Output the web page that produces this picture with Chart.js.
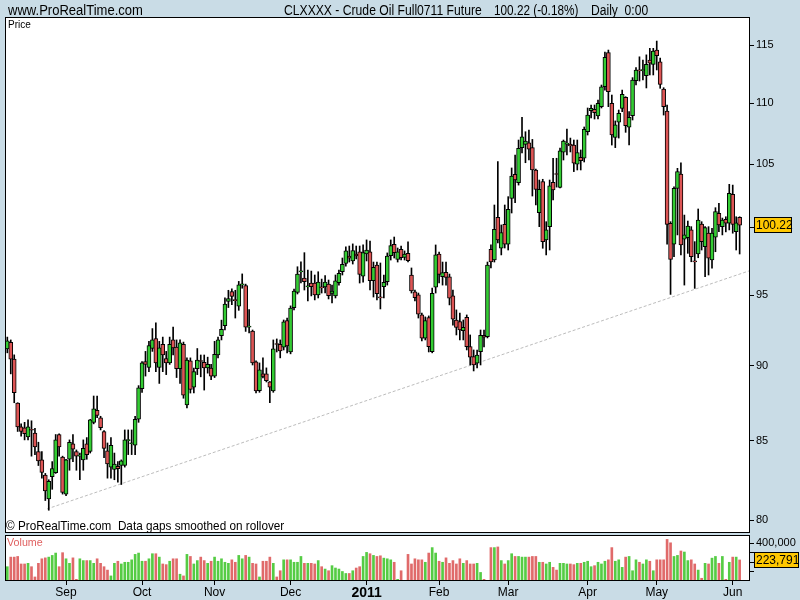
<!DOCTYPE html>
<html>
<head>
<meta charset="utf-8">
<script src="https://cdn.jsdelivr.net/npm/chart.js@4.4.1/dist/chart.umd.min.js"></script>
<style>
  body { margin: 0; width: 800px; height: 600px; overflow: hidden; position: relative; background: #c9dce6; }
  .t { position: absolute; white-space: pre; line-height: 1; color: #000;
       font-family: "Liberation Sans", Arial, sans-serif; z-index: 5; transform-origin: 0 0; }
  .wrap { position: absolute; left: 5px; }
  canvas { display: block; }
</style>
</head>
<body>
<div class="t" data-w="135" style="left:8px;top:3px;font-size:14px">www.ProRealTime.com</div>
<div class="t" data-w="198" style="left:284px;top:3px;font-size:14px">CLXXXX - Crude Oil Full0711 Future</div>
<div class="t" data-w="84" style="left:494px;top:3px;font-size:14px">100.22 (-0.18%)</div>
<div class="t" data-w="57" style="left:591px;top:3px;font-size:14px">Daily  0:00</div>

<div class="wrap" style="top:17px;width:795px;height:516px"><canvas id="priceChart" width="795" height="516"></canvas></div>
<div class="t" data-w="23" style="left:8px;top:20px;font-size:10px">Price</div>
<div class="t" data-w="278" style="left:6px;top:519px;font-size:13px">© ProRealTime.com  Data gaps smoothed on rollover</div>

<div class="wrap" style="top:535px;width:795px;height:66px"><canvas id="volChart" width="795" height="66"></canvas></div>
<div class="t" data-w="36" style="left:7px;top:537px;font-size:11px;color:#e06060">Volume</div>

<script>
// daily candles, Aug 2010 -> 3 Jun 2011 (index 0 = first bar)
const openPx = [
  91.17,91.64,90.46,87.47,85.90,85.84,85.25,85.70,85.50,84.30,
  83.76,82.80,81.30,82.70,82.95,85.40,83.94,81.60,83.80,84.80,
  84.30,84.00,83.76,84.80,84.30,86.20,87.00,86.50,85.60,84.35,
  83.30,83.15,83.35,83.40,83.40,85.00,84.80,84.70,86.40,88.45,
  90.30,89.90,91.20,91.90,89.90,91.50,90.50,90.20,91.80,91.30,
  89.80,91.50,87.35,90.35,88.55,89.80,90.35,90.25,89.85,89.85,
  89.30,90.75,92.10,92.80,94.55,95.25,94.65,94.20,95.75,95.70,
  92.70,92.43,90.27,88.31,89.45,89.45,88.90,88.29,91.50,91.50,
  91.29,93.16,90.96,94.10,95.20,96.70,96.25,95.60,95.88,95.88,
  95.01,95.55,95.59,95.81,95.13,94.94,95.90,96.71,97.33,97.88,
  97.51,98.03,98.20,96.39,98.03,98.20,96.05,97.20,94.82,95.61,
  95.98,97.90,98.76,97.63,98.38,97.78,98.08,96.47,95.24,95.01,
  93.57,91.92,93.38,90.98,95.57,98.03,96.34,96.67,96.34,94.94,
  93.21,93.09,92.45,93.40,91.33,90.64,90.18,90.98,92.13,92.03,
  98.38,97.58,100.82,98.46,100.28,98.76,102.29,104.19,103.52,106.33,
  106.60,106.73,106.33,104.53,101.17,103.60,99.09,100.10,103.55,104.19,
  103.15,105.96,106.62,106.62,106.54,104.99,105.55,105.47,107.63,109.37,
  109.49,108.93,109.71,111.39,114.33,109.99,107.17,108.41,109.57,110.50,
  108.00,108.96,111.91,112.77,112.77,112.34,113.69,113.32,114.56,113.54,
  111.20,109.35,100.36,98.76,103.07,104.21,99.14,99.27,99.85,97.46,
  98.03,100.30,98.58,99.60,97.58,99.29,101.12,100.10,100.66,100.36,
  102.60,99.72,100.82
];
const highPx = [
  92.00,91.80,90.76,87.50,86.10,86.20,86.36,86.30,85.80,84.90,
  84.30,82.90,82.50,83.65,85.40,85.45,84.00,83.80,85.05,85.40,
  84.40,84.20,85.05,85.20,86.40,87.95,87.95,86.60,85.65,84.85,
  85.20,84.20,83.65,83.76,85.70,85.70,85.70,86.60,88.65,90.30,
  91.00,91.70,92.60,93.00,91.70,92.00,91.00,92.00,92.70,91.80,
  91.80,91.65,90.55,90.55,89.85,91.20,90.75,90.75,90.60,90.10,
  91.70,92.00,93.20,94.80,95.35,95.45,95.35,96.00,96.55,95.80,
  93.95,92.50,90.34,90.20,90.55,89.86,88.92,91.80,91.87,91.80,
  93.21,93.35,94.22,95.44,97.08,97.45,98.13,96.84,96.76,96.47,
  96.71,96.17,96.42,96.10,95.73,96.47,96.84,97.73,98.56,98.63,
  98.79,98.63,98.63,98.71,99.09,99.00,97.43,97.43,97.36,96.47,
  98.11,99.09,99.31,98.48,98.63,98.26,98.94,96.99,95.37,95.15,
  93.71,93.43,93.50,95.51,98.71,98.18,97.43,97.43,96.54,95.37,
  93.93,93.71,93.21,93.57,92.15,91.10,91.10,92.50,92.50,97.43,
  98.71,101.77,105.20,100.23,101.77,102.42,104.69,105.73,106.95,108.82,
  107.63,107.77,107.00,104.61,103.73,103.79,100.48,103.73,105.47,105.47,
  106.30,106.95,107.85,107.11,106.95,106.95,106.14,108.02,109.60,109.85,
  109.85,110.27,111.54,114.39,114.56,110.69,108.52,109.43,111.11,110.55,
  109.29,112.17,113.03,113.97,113.69,114.14,114.71,114.71,115.35,113.86,
  111.31,109.85,100.48,103.20,104.66,105.11,100.99,100.53,100.10,98.96,
  101.46,100.48,100.10,100.10,99.98,101.56,101.90,100.76,100.86,103.39,
  103.33,100.86,100.86
];
const lowPx = [
  90.90,89.45,87.50,85.60,85.30,85.05,85.05,84.00,84.10,83.40,
  82.60,81.20,80.60,81.90,82.90,84.00,81.60,81.50,83.10,83.65,
  83.10,82.50,83.10,83.80,84.20,86.10,86.50,85.70,83.90,82.60,
  82.60,82.50,82.35,82.20,83.30,84.10,84.10,84.10,86.20,88.20,
  89.30,89.60,91.00,89.60,88.80,89.60,89.40,90.10,90.75,89.20,
  88.80,87.80,87.15,88.15,88.15,89.40,89.25,88.35,89.50,89.05,
  89.20,90.55,91.80,92.50,94.10,94.30,93.35,93.90,95.50,92.40,
  92.30,90.06,88.16,88.20,89.17,88.90,87.50,88.20,90.96,90.55,
  91.10,90.90,90.83,93.93,95.08,95.88,95.37,94.58,94.94,94.65,
  94.79,95.15,95.15,94.72,94.43,94.79,95.73,96.47,97.13,97.43,
  97.28,97.66,95.88,95.95,97.51,95.37,94.86,94.65,94.00,94.79,
  95.73,97.58,97.73,97.43,97.58,97.58,97.43,95.15,94.58,93.35,
  91.73,91.80,90.96,90.90,95.15,95.88,95.73,95.73,94.29,92.85,
  92.15,91.80,91.80,91.10,90.06,89.65,89.86,90.06,91.31,91.94,
  96.99,97.43,98.86,97.96,98.48,98.33,101.15,101.95,103.33,105.90,
  105.11,105.33,102.47,101.77,100.10,98.46,97.96,98.33,102.16,103.17,
  103.10,105.33,105.73,105.98,104.40,104.53,104.53,105.17,107.36,108.77,
  108.68,108.68,109.60,111.11,109.71,106.54,106.33,107.11,109.29,107.58,
  106.54,108.60,111.54,111.88,111.97,111.29,112.40,112.40,112.83,111.26,
  109.01,98.76,95.05,97.83,99.47,97.96,95.73,98.08,97.45,95.49,
  97.75,98.33,96.34,96.47,96.97,98.20,99.72,99.47,99.70,99.85,
  99.60,98.33,98.03
];
const closePx = [
  91.73,90.46,88.17,85.90,85.60,85.45,85.90,85.68,84.60,83.70,
  82.96,81.80,82.40,83.20,85.05,84.60,81.70,83.76,84.90,84.45,
  84.00,84.02,84.50,84.10,86.36,87.10,86.65,85.85,84.50,83.50,
  84.70,83.50,83.20,83.70,85.05,85.05,84.82,86.40,88.50,90.20,
  90.10,91.40,91.80,90.20,91.25,90.75,90.20,91.50,91.25,89.80,
  91.60,88.00,90.40,88.40,89.60,90.40,90.30,89.85,90.10,89.30,
  90.80,91.80,92.55,94.35,94.75,94.90,94.60,95.75,95.80,92.70,
  92.72,90.20,88.29,89.72,89.27,88.99,88.54,91.17,91.48,91.03,
  93.07,91.38,94.07,95.30,96.54,96.72,95.98,95.61,95.61,95.01,
  95.95,95.53,95.95,94.96,95.30,96.05,96.60,97.26,98.26,97.71,
  98.28,97.88,96.52,98.13,98.33,96.05,97.04,95.10,94.80,95.93,
  97.88,98.66,98.13,98.20,97.75,98.03,97.53,95.30,94.82,93.62,
  91.92,93.16,91.33,95.13,97.96,96.52,96.64,96.30,94.77,93.26,
  92.69,92.50,92.69,91.33,90.60,90.06,90.75,92.13,91.99,97.21,
  97.43,99.90,99.09,99.64,98.76,101.43,104.05,103.73,106.28,107.22,
  106.87,106.20,104.53,102.99,102.99,98.96,99.85,103.28,102.94,104.17,
  106.06,106.87,106.64,106.46,105.07,105.92,105.27,107.83,109.01,109.57,
  109.20,109.99,111.39,113.92,110.97,107.36,108.19,109.15,110.75,108.13,
  108.83,111.97,112.83,112.75,112.80,113.32,113.41,114.47,114.06,111.60,
  109.71,100.28,97.63,103.07,104.40,98.71,99.47,100.15,97.83,97.44,
  100.61,98.96,100.02,97.71,99.60,101.25,100.23,100.61,100.36,102.68,
  100.28,100.40,100.22
];
const volume = [
  152000,254000,254000,261000,181000,181000,188000,152000,43000,188000,
  236000,246000,254000,272000,297000,152000,301000,236000,188000,246000,
  18000,236000,217000,217000,217000,188000,236000,188000,152000,116000,
  54000,188000,210000,181000,199000,199000,225000,283000,297000,210000,
  210000,236000,290000,290000,254000,181000,174000,210000,236000,236000,
  72000,54000,283000,261000,181000,217000,254000,217000,188000,210000,
  254000,210000,236000,199000,188000,225000,199000,272000,236000,272000,
  254000,188000,181000,43000,210000,210000,254000,188000,43000,109000,
  225000,225000,225000,
  199000,199000,261000,188000,188000,188000,181000,217000,152000,127000,
  109000,163000,138000,127000,101000,80000,80000,109000,138000,152000,
  261000,304000,290000,272000,261000,268000,243000,236000,225000,199000,
  18000,109000,7000,283000,181000,236000,225000,225000,199000,297000,
  355000,297000,210000,199000,246000,188000,217000,181000,236000,188000,
  217000,181000,181000,188000,91000,18000,7000,355000,355000,362000,
  217000,181000,217000,290000,261000,261000,254000,254000,254000,261000,
  261000,199000,199000,181000,199000,145000,116000,188000,188000,181000,
  181000,174000,188000,188000,199000,210000,152000,163000,199000,181000,
  210000,225000,355000,210000,225000,145000,254000,261000,109000,225000,
  199000,181000,225000,210000,109000,225000,225000,225000,442000,406000,
  261000,272000,319000,308000,217000,225000,181000,116000,29000,188000,
  181000,243000,261000,188000,261000,18000,199000,254000,254000,223791
];

// first bar of each month (bar index) and its label
const monthTickIdx = [17, 39, 60, 82, 104, 125, 145, 168, 188, 210];
const monthNames = ['Sep', 'Oct', 'Nov', 'Dec', '2011', 'Feb', 'Mar', 'Apr', 'May', 'Jun'];

const priceTicks = [80, 85, 90, 95, 100, 105, 110, 115];
const volTicks = [100000, 200000, 300000, 400000];

// support line drawn on the chart
const trendX = [11.5, 214.7];
const trendY = [80.68, 96.77];

const GREEN = '#33cc33';
const RED = '#dd5555';
const VOL_GREEN = '#55cc44';
const VOL_RED = '#e06a6a';
const FONT = 'Liberation Sans, Arial, sans-serif';

const xMin = -0.67;
const xMax = 215.0;

// squeeze header texts to the narrow width of the original font
for (const el of document.querySelectorAll('.t[data-w]')) {
  const w = +el.dataset.w;
  el.style.transform = 'scaleX(' + (w / el.offsetWidth) + ')';
}

const isUp = (i) => closePx[i] >= openPx[i];

const panelBox = {
  id: 'panelBox',
  beforeDraw(chart) {
    const { ctx, chartArea: a } = chart;
    ctx.save();
    ctx.fillStyle = '#fff';
    ctx.fillRect(a.left, a.top, a.right - a.left, a.bottom - a.top);
    ctx.restore();
  },
  afterDraw(chart) {
    const { ctx, chartArea: a } = chart;
    ctx.save();
    ctx.strokeStyle = '#000';
    ctx.lineWidth = 1;
    ctx.strokeRect(a.left + 0.5, a.top + 0.5, a.right - a.left - 1, a.bottom - a.top - 1);
    ctx.restore();
  }
};

// yellow box with the last value on the right axis
function lastValueBox(scaleId, value, text, w) {
  return {
    id: 'lastBox_' + scaleId,
    afterDraw(chart) {
      const { ctx, chartArea: a } = chart;
      const y = Math.round(chart.scales[scaleId].getPixelForValue(value));
      ctx.save();
      ctx.fillStyle = '#ffc800';
      ctx.fillRect(a.right + 4, y - 8, w, 16);
      ctx.strokeStyle = '#000';
      ctx.lineWidth = 1;
      ctx.strokeRect(a.right + 4.5, y - 7.5, w - 1, 15);
      ctx.fillStyle = '#000';
      ctx.font = '12px ' + FONT;
      ctx.textBaseline = 'middle';
      ctx.fillText(text, a.right + 6, y + 1);
      ctx.restore();
    }
  };
}

function fixAxis(width) {
  return (scale) => {
    scale.width = width;
    scale.paddingTop = 0;
    scale.paddingBottom = 0;
  };
}

Chart.defaults.font.family = FONT;
Chart.defaults.font.size = 11;
Chart.defaults.color = '#000';

const idx = closePx.map((_, i) => i);

new Chart(document.getElementById('priceChart'), {
  type: 'bar',
  data: {
    datasets: [
      {
        type: 'line',
        data: trendX.map((x, i) => ({ x: x, y: trendY[i] })),
        borderColor: '#bdbdbd',
        borderWidth: 1,
        borderDash: [3, 2],
        pointRadius: 0,
        order: 3
      },
      {
        data: idx.map(i => ({ x: i, y: [lowPx[i], highPx[i]] })),
        backgroundColor: '#000',
        borderWidth: 0,
        barThickness: 1,
        grouped: false,
        order: 2
      },
      {
        data: idx.map(i => ({ x: i, y: [openPx[i], closePx[i]] })),
        backgroundColor: (c) => isUp(c.dataIndex) ? GREEN : RED,
        borderColor: '#000',
        borderWidth: 1,
        borderSkipped: false,
        barThickness: 4,
        minBarLength: 1,
        grouped: false,
        order: 1
      }
    ]
  },
  options: {
    responsive: false,
    animation: false,
    layout: { padding: 0 },
    plugins: { legend: { display: false }, tooltip: { enabled: false } },
    scales: {
      x: { type: 'linear', min: xMin, max: xMax, offset: false, display: false },
      y: {
        type: 'logarithmic',
        position: 'right',
        min: 79.21,
        max: 117.49,
        afterBuildTicks: (s) => { s.ticks = priceTicks.map(v => ({ value: v })); },
        afterFit: fixAxis(50),
        ticks: { autoSkip: false, padding: 2, callback: (v) => String(v) },
        grid: { drawOnChartArea: false, drawTicks: true, tickLength: 4, color: '#000' },
        border: { display: false }
      }
    }
  },
  plugins: [panelBox, lastValueBox('y', closePx[closePx.length - 1], '100.22', 38)]
});

new Chart(document.getElementById('volChart'), {
  type: 'bar',
  data: {
    datasets: [{
      data: idx.map(i => ({ x: i, y: volume[i] })),
      backgroundColor: (c) => isUp(c.dataIndex) ? VOL_GREEN : VOL_RED,
      borderWidth: 0,
      barThickness: 2
    }]
  },
  options: {
    responsive: false,
    animation: false,
    layout: { padding: 0 },
    plugins: { legend: { display: false }, tooltip: { enabled: false } },
    scales: {
      x: {
        type: 'linear', min: xMin, max: xMax, offset: false,
        afterBuildTicks: (s) => { s.ticks = monthTickIdx.map(v => ({ value: v })); },
        afterFit: (s) => { s.height = 20; s.paddingLeft = 0; s.paddingRight = 0; },
        ticks: {
          autoSkip: false, maxRotation: 0, padding: 0,
          callback: (v) => monthNames[monthTickIdx.indexOf(v)],
          font: (c) => (monthNames[c.index] === '2011')
            ? { size: 14, weight: 'bold', family: FONT }
            : { size: 12, family: FONT }
        },
        grid: { offset: false, drawOnChartArea: false, drawTicks: true, tickLength: 4, color: '#000' },
        border: { display: false }
      },
      y: {
        position: 'right',
        min: 0,
        max: 489000,
        afterBuildTicks: (s) => { s.ticks = volTicks.map(v => ({ value: v })); },
        afterFit: fixAxis(50),
        ticks: { autoSkip: false, padding: 2, callback: (v) => v === 400000 ? '400,000' : '' },
        grid: { drawOnChartArea: false, drawTicks: true, tickLength: 4, color: '#000' },
        border: { display: false }
      }
    }
  },
  plugins: [panelBox, lastValueBox('y', volume[volume.length - 1], '223,791', 45)]
});
</script>
</body>
</html>
